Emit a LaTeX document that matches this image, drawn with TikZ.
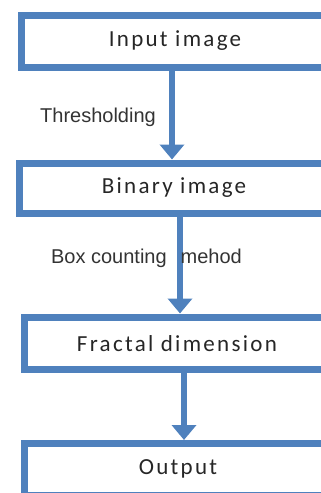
\documentclass[tikz,border=0pt]{standalone}
\usepackage{fontspec}
\setmainfont{Carlito}
\newfontfamily\boxfont[LetterSpace=10]{Carlito}
\newfontfamily\labfont{Liberation Sans}
\usetikzlibrary{arrows.meta}
\definecolor{flowblue}{HTML}{4F81BD}
\tikzset{
  stepbox/.style={draw=flowblue, line width=7pt, rectangle, inner sep=0pt},
  steptext/.style={font=\boxfont\fontsize{23}{27}\selectfont, text=black!85, inner sep=0pt},
  arr/.style={draw=flowblue, line width=6.5pt,
    -{Triangle[width=24pt,length=15pt]}},
  lab/.style={font=\labfont\fontsize{20}{24}\selectfont, text=black!80, inner sep=0pt}
}
\begin{document}
\begin{tikzpicture}[x=1pt,y=-1pt]
\useasboundingbox (0,0) rectangle (321,493);
\clip (0,0) rectangle (321,493);
\node[stepbox, minimum width=330pt, minimum height=52pt] (b1) at (186,41) {};
\node[stepbox, minimum width=330pt, minimum height=50pt] (b2) at (184,188) {};
\node[stepbox, minimum width=326pt, minimum height=52pt] (b3) at (187,343) {};
\node[stepbox, minimum width=326pt, minimum height=52pt] (b4) at (187,469.5) {};
\node[steptext] (t1) at (175,41) {Input image};
\node[steptext] (t2) at (174,188) {Binary image};
\node[steptext] (t3) at (177,344) {Fractal dimension};
\node[steptext] (t4) at (178,469) {Output};
\draw[arr] ([xshift=-14pt]b1.south) -- ([xshift=-12pt]b2.north);
\draw[arr] ([xshift=-4pt]b2.south) -- ([xshift=-7pt]b3.north);
\draw[arr] ([xshift=-3pt]b3.south) -- ([xshift=-3pt]b4.north);
\node[lab] (l1) at (98,117) {Thresholding};
\node[lab] (l2) at (146.5,258) {Box counting\hspace{14pt}mehod};
\end{tikzpicture}
\end{document}
